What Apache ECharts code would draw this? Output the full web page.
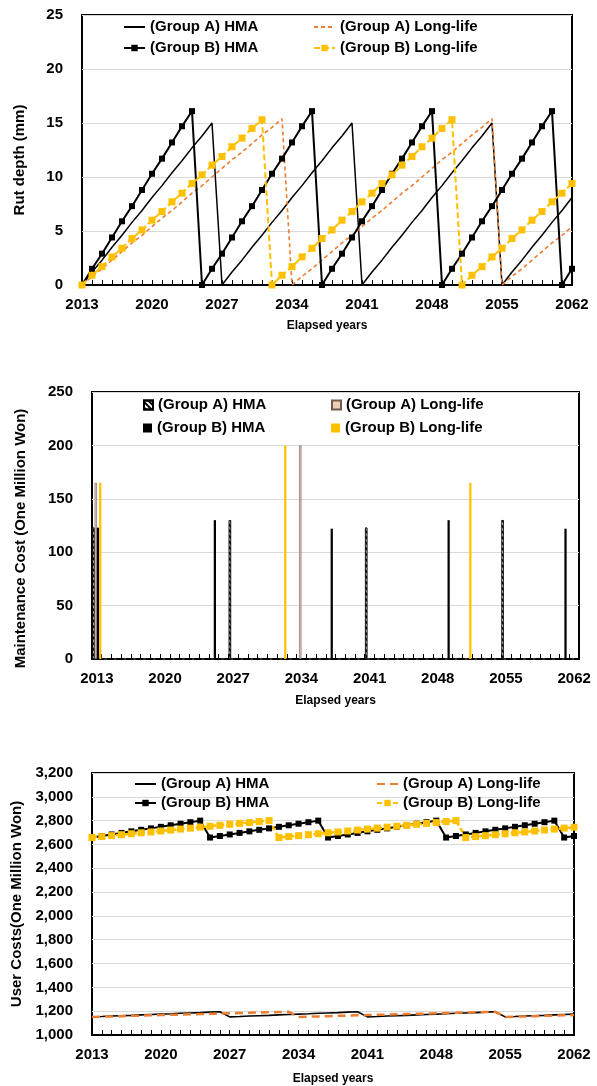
<!DOCTYPE html>
<html><head><meta charset="utf-8">
<script src="https://cdn.jsdelivr.net/npm/echarts@6/dist/echarts.min.js"></script>
<style>html,body{margin:0;padding:0;background:#fff}#c{width:597px;height:1086px}</style>
</head><body><div id="c"></div>
<script>
// ---------- DATA ----------
const years = [2013,2014,2015,2016,2017,2018,2019,2020,2021,2022,2023,2024,2025,2026,2027,2028,2029,2030,2031,2032,2033,2034,2035,2036,2037,2038,2039,2040,2041,2042,2043,2044,2045,2046,2047,2048,2049,2050,2051,2052,2053,2054,2055,2056,2057,2058,2059,2060,2061,2062];

// Chart 1: rut depth (mm)
const rutA_HMA = [0,1.2,2.3,3.5,4.6,5.8,6.9,8.1,9.2,10.4,11.5,12.7,13.8,15.0,
  0,1.2,2.3,3.5,4.6,5.8,6.9,8.1,9.2,10.4,11.5,12.7,13.8,15.0,
  0,1.2,2.3,3.5,4.6,5.8,6.9,8.1,9.2,10.4,11.5,12.7,13.8,15.0,
  0,1.2,2.3,3.5,4.6,5.8,6.9,8.1];
const rutA_LL = [0,0.8,1.5,2.3,3.1,3.9,4.6,5.4,6.2,6.9,7.7,8.5,9.2,10.0,10.8,11.6,12.3,13.1,13.9,14.6,15.4,
  0,0.8,1.5,2.3,3.1,3.9,4.6,5.4,6.2,6.9,7.7,8.5,9.2,10.0,10.8,11.6,12.3,13.1,13.9,14.6,15.4,
  0,0.8,1.5,2.3,3.1,3.9,4.6,5.4];
const rutB_HMA = [0,1.5,2.9,4.4,5.9,7.3,8.8,10.3,11.7,13.2,14.7,16.1,
  0,1.5,2.9,4.4,5.9,7.3,8.8,10.3,11.7,13.2,14.7,16.1,
  0,1.5,2.9,4.4,5.9,7.3,8.8,10.3,11.7,13.2,14.7,16.1,
  0,1.5,2.9,4.4,5.9,7.3,8.8,10.3,11.7,13.2,14.7,16.1,
  0,1.5];
const rutB_LL = [0,0.9,1.7,2.6,3.4,4.3,5.1,6.0,6.8,7.7,8.5,9.4,10.2,11.1,11.9,12.8,13.6,14.5,15.3,
  0,0.9,1.7,2.6,3.4,4.3,5.1,6.0,6.8,7.7,8.5,9.4,10.2,11.1,11.9,12.8,13.6,14.5,15.3,
  0,0.9,1.7,2.6,3.4,4.3,5.1,6.0,6.8,7.7,8.5,9.4];

// Chart 2: maintenance cost events (year -> one million won)
const maintA_HMA = {2013:123, 2027:130, 2041:123, 2055:130};
const maintA_LL  = {2013:165, 2034:200};
const maintB_HMA = {2013:123, 2025:130, 2037:122, 2049:130, 2061:122};
const maintB_LL  = {2013:165, 2032:200, 2051:165};

// Chart 3: user costs (one million won)
const userA_HMA = [1152,1155,1159,1162,1165,1169,1172,1175,1178,1182,1185,1188,1192,1195,
  1152,1155,1159,1162,1165,1169,1172,1175,1178,1182,1185,1188,1192,1195,
  1152,1155,1159,1162,1165,1169,1172,1175,1178,1182,1185,1188,1192,1195,
  1152,1155,1159,1162,1165,1169,1172,1175];
const userA_LL = [1152,1154,1156,1158,1161,1163,1165,1167,1169,1171,1174,1176,1178,1180,1182,1184,1186,1189,1191,1193,1195,
  1152,1154,1156,1158,1161,1163,1165,1167,1169,1171,1174,1176,1178,1180,1182,1184,1186,1189,1191,1193,1195,
  1152,1154,1156,1158,1161,1163,1165,1167];
const userB_HMA = [2658,2671,2684,2697,2710,2723,2735,2748,2761,2774,2787,2800,
  2658,2671,2684,2697,2710,2723,2735,2748,2761,2774,2787,2800,
  2658,2671,2684,2697,2710,2723,2735,2748,2761,2774,2787,2800,
  2658,2671,2684,2697,2710,2723,2735,2748,2761,2774,2787,2800,
  2658,2671];
const userB_LL = [2658,2666,2674,2682,2690,2698,2705,2713,2721,2729,2737,2745,2753,2761,2769,2777,2784,2792,2800,
  2658,2666,2674,2682,2690,2698,2705,2713,2721,2729,2737,2745,2753,2761,2769,2777,2784,2792,2800,
  2658,2666,2674,2682,2690,2698,2705,2713,2721,2729,2737,2745];

const seriesNames = ['(Group A) HMA','(Group A) Long-life','(Group B) HMA','(Group B) Long-life'];

// ---------- STYLE ----------
const FF = '"Liberation Sans", Arial, sans-serif';
const BLACK = '#000', ORANGE = '#ed7d31', YELLOW = '#ffc000';
const txt = (size) => ({fontFamily: FF, fontWeight: 'bold', fontSize: size, color: '#000'});

function toSeries(map){ return years.map(y => (map[y] !== undefined ? map[y] : 0)); }

const grids = [
  {left: 82, right: 25, top: 15, height: 270},
  {left: 92, right: 18, top: 392, height: 267},
  {left: 92, right: 23, top: 773, height: 264}
].map(g => Object.assign({show: true, borderColor: '#000', borderWidth: 2, backgroundColor: 'transparent'}, g));

function xAxis(i, gap, nameGap){
  return {
    gridIndex: i, type: 'category', data: years, boundaryGap: gap,
    axisLine: {show: true, lineStyle: {color: '#000', width: 2}},
    axisTick: {show: true, inside: true, interval: 0, length: 5, alignWithLabel: false, lineStyle: {color: '#000', width: 1}},
    axisLabel: Object.assign({interval: 6, margin: 12}, txt(15)),
    splitLine: {show: false},
    name: 'Elapsed years', nameLocation: 'middle', nameGap: nameGap,
    nameTextStyle: txt(12)
  };
}
function yAxis(i, min, max, interval, name, nameGap, pad, fmt){
  return {
    gridIndex: i, type: 'value', min: min, max: max, interval: interval,
    axisLine: {show: false}, axisTick: {show: false},
    axisLabel: Object.assign({margin: 19, formatter: fmt}, txt(15)),
    splitLine: {show: true, lineStyle: {color: '#d9d9d9', width: 1}},
    name: name, nameLocation: 'middle', nameGap: nameGap,
    nameTextStyle: Object.assign({padding: pad}, txt(15))
  };
}

const labelMap = {};
function legend(id, label, left, top, w, h, icon, noSymbol){
  labelMap[id] = label;
  const l = {data: [id], left: left, top: top, itemWidth: w, itemHeight: h, padding: 0, itemGap: 0,
    selectedMode: false, formatter: n => labelMap[n],
    textStyle: Object.assign({lineHeight: 16}, txt(15))};
  if (icon) l.icon = icon;
  if (noSymbol) l.itemStyle = {color: 'rgba(0,0,0,0)', borderWidth: 0, opacity: 0};
  return l;
}

const series = [
  // Chart 1
  {id:'c1a', name:'c1_aHMA', type:'line', xAxisIndex:0, yAxisIndex:0, data: rutA_HMA, symbol:'none',
   lineStyle:{color:BLACK, width:1.5}, itemStyle:{color:BLACK}},
  {id:'c1b', name:'c1_aLL', type:'line', xAxisIndex:0, yAxisIndex:0, data: rutA_LL, symbol:'none',
   lineStyle:{color:ORANGE, width:1.6, type:[4,3]}, itemStyle:{color:ORANGE}},
  {id:'c1c', name:'c1_bHMA', type:'line', xAxisIndex:0, yAxisIndex:0, data: rutB_HMA, symbol:'rect', symbolSize:6, showAllSymbol:true,
   lineStyle:{color:BLACK, width:2}, itemStyle:{color:BLACK}},
  {id:'c1d', name:'c1_bLL', type:'line', xAxisIndex:0, yAxisIndex:0, data: rutB_LL, symbol:'rect', symbolSize:7, showAllSymbol:true,
   lineStyle:{color:YELLOW, width:2, type:[6,3]}, itemStyle:{color:YELLOW}},
  // Chart 2
  {id:'c2a', name:'c2_aHMA', type:'bar', xAxisIndex:1, yAxisIndex:1, data: toSeries(maintA_HMA), barWidth:'23%', barGap:'0%',
   itemStyle:{color:'#fff', borderColor:'#000', borderWidth:0.6,
     decal:{symbol:'rect', color:'#000', dashArrayX:[1,0], dashArrayY:[1.5,2], rotation:Math.PI/4}}},
  {id:'c2b', name:'c2_aLL', type:'bar', xAxisIndex:1, yAxisIndex:1, data: toSeries(maintA_LL), barWidth:'23%', barGap:'0%',
   itemStyle:{color:'#eecdb4', borderColor:'#6e5a50', borderWidth:0.6}},
  {id:'c2c', name:'c2_bHMA', type:'bar', xAxisIndex:1, yAxisIndex:1, data: toSeries(maintB_HMA), barWidth:'23%', barGap:'0%',
   itemStyle:{color:BLACK}},
  {id:'c2d', name:'c2_bLL', type:'bar', xAxisIndex:1, yAxisIndex:1, data: toSeries(maintB_LL), barWidth:'23%', barGap:'0%',
   itemStyle:{color:YELLOW}},
  // Chart 3
  {id:'c3a', name:'c3_aHMA', type:'line', xAxisIndex:2, yAxisIndex:2, data: userA_HMA, symbol:'none',
   lineStyle:{color:BLACK, width:1.6}, itemStyle:{color:BLACK}},
  {id:'c3b', name:'c3_aLL', type:'line', xAxisIndex:2, yAxisIndex:2, data: userA_LL, symbol:'none',
   lineStyle:{color:ORANGE, width:2.5, type:[8,5]}, itemStyle:{color:ORANGE}},
  {id:'c3c', name:'c3_bHMA', type:'line', xAxisIndex:2, yAxisIndex:2, data: userB_HMA, symbol:'rect', symbolSize:6, showAllSymbol:true,
   lineStyle:{color:BLACK, width:2}, itemStyle:{color:BLACK}},
  {id:'c3d', name:'c3_bLL', type:'line', xAxisIndex:2, yAxisIndex:2, data: userB_LL, symbol:'rect', symbolSize:7, showAllSymbol:true,
   lineStyle:{color:YELLOW, width:2.5, type:[5,3]}, itemStyle:{color:YELLOW}}
];

const legends = [
  legend('c1_aHMA', seriesNames[0], 123, 19, 21, 8, null, true),
  legend('c1_bHMA', seriesNames[2], 123, 40, 21, 8),
  legend('c1_aLL',  seriesNames[1], 313, 19, 21, 8, null, true),
  legend('c1_bLL',  seriesNames[3], 313, 40, 21, 8),
  legend('c2_aHMA', seriesNames[0], 143, 397, 9, 9, 'rect'),
  legend('c2_bHMA', seriesNames[2], 143, 420, 9, 9, 'rect'),
  legend('c2_aLL',  seriesNames[1], 331, 397, 9, 9, 'rect'),
  legend('c2_bLL',  seriesNames[3], 331, 420, 9, 9, 'rect'),
  legend('c3_aHMA', seriesNames[0], 134, 776, 21, 8, null, true),
  legend('c3_bHMA', seriesNames[2], 134, 795, 21, 8),
  legend('c3_aLL',  seriesNames[1], 376, 776, 21, 8, null, true),
  legend('c3_bLL',  seriesNames[3], 376, 795, 21, 8)
];

const chart = echarts.init(document.getElementById('c'), null, {renderer: 'canvas'});
chart.setOption({
  animation: false,
  backgroundColor: '#fff',
  grid: grids,
  xAxis: [xAxis(0, false, 35), xAxis(1, true, 36), xAxis(2, false, 38)],
  yAxis: [
    yAxis(0, 0, 25, 5, 'Rut depth (mm)', 55, [0, 20, 0, 0]),
    yAxis(1, 0, 250, 50, 'Maintenance Cost (One Million Won)', 64, [0, 26, 0, 0]),
    yAxis(2, 1000, 3200, 200, 'User Costs(One Million Won)', 65, [0, 0, 0, 0], v => v.toLocaleString('en-US'))
  ],
  legend: legends,
  series: series
});
</script>
</body></html>
